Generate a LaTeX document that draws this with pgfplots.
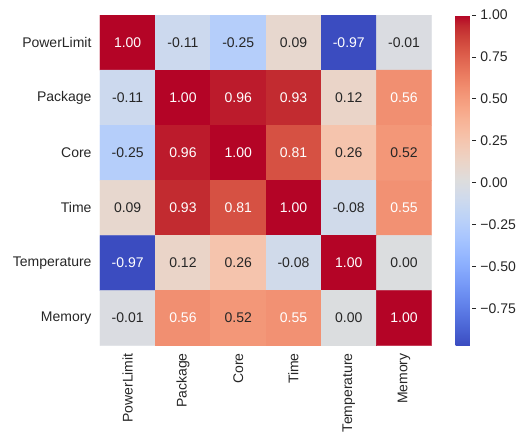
\documentclass[border=0pt]{standalone}
\usepackage{fontspec}
\setmainfont{Liberation Sans}
\usepackage{pgfplots}
\usepackage{pgfplotstable}
\pgfplotsset{compat=1.18}
\definecolor{labelgray}{HTML}{262626}

% matplotlib-style "coolwarm" diverging colormap (33 evenly spaced samples)
\pgfplotsset{colormap={coolwarm}{
  rgb255=(59,76,192) rgb255=(68,90,204) rgb255=(77,104,215) rgb255=(87,117,225)
  rgb255=(98,130,234) rgb255=(108,142,241) rgb255=(119,154,247) rgb255=(130,165,251)
  rgb255=(141,176,254) rgb255=(152,185,255) rgb255=(163,194,255) rgb255=(174,201,253)
  rgb255=(184,208,249) rgb255=(194,213,244) rgb255=(204,217,238) rgb255=(213,219,230)
  rgb255=(221,221,221) rgb255=(229,216,209) rgb255=(236,211,197) rgb255=(241,204,185)
  rgb255=(245,196,173) rgb255=(247,187,160) rgb255=(247,177,148) rgb255=(247,166,135)
  rgb255=(244,154,123) rgb255=(241,141,111) rgb255=(236,127,99) rgb255=(229,112,88)
  rgb255=(222,96,77) rgb255=(213,80,66) rgb255=(203,62,56) rgb255=(192,40,47)
  rgb255=(180,4,38)}}

% correlation matrix: column x, row y, value v, w=1 for white annotation text
\pgfplotstableread{
x y v w
0 0 1.00 1
1 0 -0.11 0
2 0 -0.25 0
3 0 0.09 0
4 0 -0.97 1
5 0 -0.01 0
0 1 -0.11 0
1 1 1.00 1
2 1 0.96 1
3 1 0.93 1
4 1 0.12 0
5 1 0.56 1
0 2 -0.25 0
1 2 0.96 1
2 2 1.00 1
3 2 0.81 1
4 2 0.26 0
5 2 0.52 0
0 3 0.09 0
1 3 0.93 1
2 3 0.81 1
3 3 1.00 1
4 3 -0.08 0
5 3 0.55 1
0 4 -0.97 1
1 4 0.12 0
2 4 0.26 0
3 4 -0.08 0
4 4 1.00 1
5 4 0.00 0
0 5 -0.01 0
1 5 0.56 1
2 5 0.52 0
3 5 0.55 1
4 5 0.00 0
5 5 1.00 1
}\corrtable

\newcommand{\lblfont}{\fontsize{14}{17}\selectfont}

\pgfplotsset{
  cell labels/.style={
    only marks, mark=text, text mark={},
    point meta=explicit, nodes near coords, nodes near coords align=center,
    every node near coord/.append style={font=\lblfont, text=#1, inner sep=0pt},
  },
}

\begin{document}
\begin{tikzpicture}
\path[use as bounding box] (0,0) rectangle (517pt,432pt);
\begin{axis}[
  at={(100pt,86.3pt)}, anchor=south west,
  scale only axis, width=331.7pt, height=330.7pt,
  xmin=-0.5, xmax=5.5, ymin=-0.5, ymax=5.5, y dir=reverse,
  axis line style={draw=none},
  major tick length=0pt,
  xtick={0,...,5}, ytick={0,...,5},
  xticklabels={PowerLimit,Package,Core,Time,Temperature,Memory},
  yticklabels={PowerLimit,Package,Core,Time,Temperature,Memory},
  tick label style={font=\lblfont, text=labelgray, inner sep=0pt},
  x tick label style={rotate=90, anchor=east},
  y tick label style={anchor=east},
  xticklabel shift=7.5pt,
  yticklabel shift=8.3pt,
  /pgf/number format/fixed, /pgf/number format/zerofill,
  /pgf/number format/precision=2, /pgf/number format/assume math mode=true,
  colormap name=coolwarm,
  point meta min=-0.972, point meta max=1,
  colorbar,
  colorbar style={
    at={(parent axis.north east)}, anchor=north west, xshift=15.3pt,
    scale only axis, width=16.7pt, height=330.7pt,
    axis line style={draw=none},
    ytick={-0.75,-0.5,-0.25,0,0.25,0.5,0.75,1},
    yticklabels={−0.75,−0.50,−0.25,0.00,0.25,0.50,0.75,1.00},
    ytick pos=right, yticklabel pos=right,
    ytick align=outside,
    major tick length=4pt,
    tick style={labelgray, line width=0.8pt},
    yticklabel style={font=\lblfont, text=labelgray, inner sep=0pt, anchor=west},
    yticklabel shift=4pt,
  },
]
\addplot[matrix plot*, mesh/cols=6, point meta=explicit]
  table[x=x, y=y, meta=v] {\corrtable};

% annotations on dark cells
\addplot[cell labels=white, restrict expr to domain={\thisrow{w}}{0.5:1.5}]
  table[x=x, y=y, meta=v] {\corrtable};

% annotations on light cells
\addplot[cell labels=labelgray, restrict expr to domain={\thisrow{w}}{-0.5:0.5}]
  table[x=x, y=y, meta=v] {\corrtable};
\end{axis}
\end{tikzpicture}
\end{document}
